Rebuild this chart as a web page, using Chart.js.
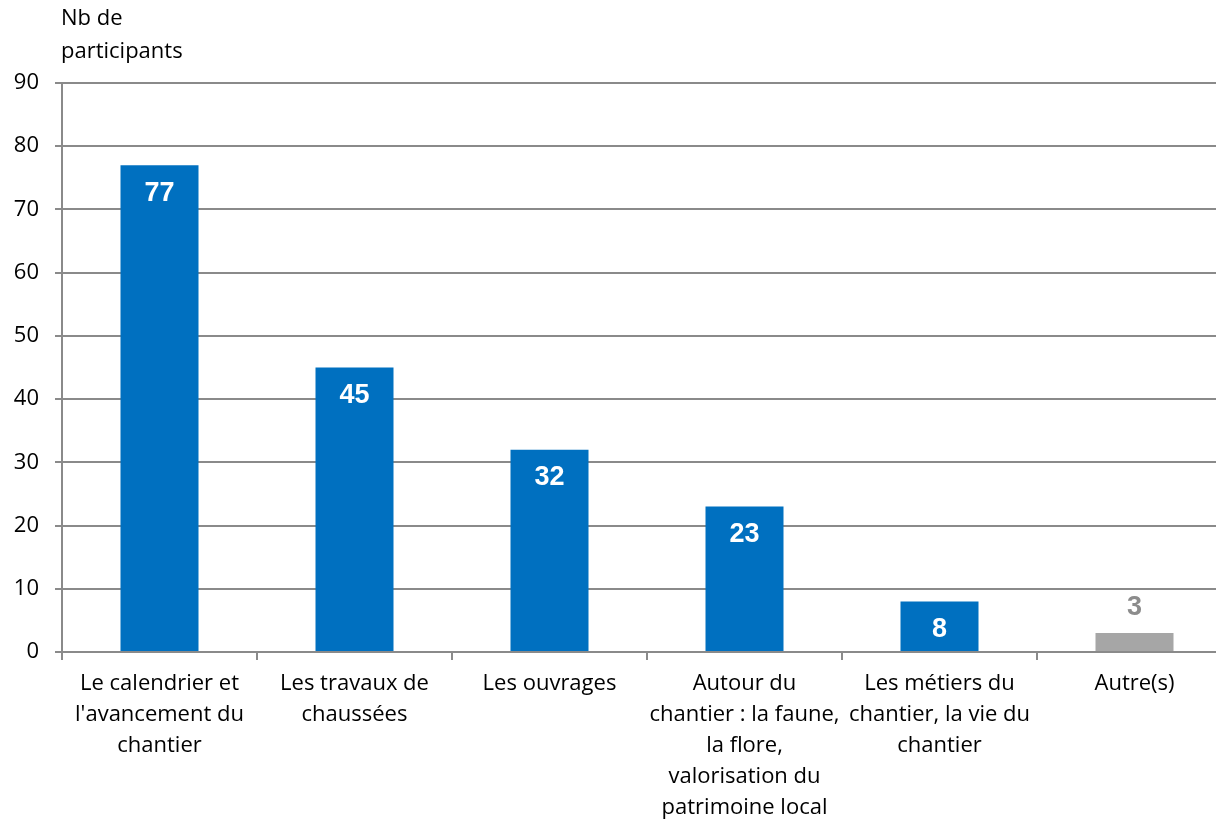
<!DOCTYPE html>
<html>
<head>
<meta charset="utf-8">
<script src="https://cdn.jsdelivr.net/npm/chart.js@4"></script>
<style>
  html, body { margin: 0; padding: 0; background: #fff; overflow: hidden; }
  #wrap { position: relative; width: 1240px; height: 823px; }
</style>
</head>
<body>
<div id="wrap"><canvas id="chart"></canvas></div>
<script>
// données
const categories = [
  ["Le calendrier et", "l'avancement du", "chantier"],
  ["Les travaux de", "chaussées"],
  ["Les ouvrages"],
  ["Autour du", "chantier : la faune,", "la flore,", "valorisation du", "patrimoine local"],
  ["Les métiers du", "chantier, la vie du", "chantier"],
  ["Autre(s)"]
];
const participants = [77, 45, 32, 23, 8, 3];
const barColors = ["#0070C0", "#0070C0", "#0070C0", "#0070C0", "#0070C0", "#A6A6A6"];
const yTitle = ["Nb de", "participants"];

const FONT = '"Open Sans", "DejaVu Sans", sans-serif';

// étiquettes de valeur : dans la barre (blanc) ou au-dessus pour "Autre(s)"
const valueLabels = {
  id: 'valueLabels',
  afterDatasetsDraw(chart) {
    const ctx = chart.ctx;
    const meta = chart.getDatasetMeta(0);
    ctx.save();
    ctx.font = 'bold 27px "Liberation Sans", Arial, sans-serif';
    ctx.textAlign = 'center';
    ctx.textBaseline = 'middle';
    meta.data.forEach((bar, i) => {
      const v = participants[i];
      if (i === participants.length - 1) {
        ctx.fillStyle = '#8C8C8C';
        ctx.fillText(String(v), bar.x, bar.y - 25);
      } else {
        ctx.fillStyle = '#ffffff';
        ctx.fillText(String(v), bar.x, bar.y + 28);
      }
    });
    ctx.restore();
  }
};

// titre de l'axe Y, horizontal au-dessus de l'axe
const yTitlePlugin = {
  id: 'yTitle',
  afterDraw(chart) {
    const ctx = chart.ctx;
    ctx.save();
    ctx.font = '22px ' + FONT;
    ctx.fillStyle = '#000';
    ctx.textAlign = 'left';
    ctx.textBaseline = 'middle';
    ctx.fillText(yTitle[0], chart.chartArea.left - 1, 19);
    ctx.fillText(yTitle[1], chart.chartArea.left - 1, 52);
    ctx.restore();
  }
};

new Chart(document.getElementById('chart'), {
  type: 'bar',
  data: {
    labels: categories,
    datasets: [{
      data: participants,
      backgroundColor: barColors,
      borderWidth: 0,
      categoryPercentage: 1,
      barPercentage: 0.4
    }]
  },
  plugins: [valueLabels, yTitlePlugin],
  options: {
    responsive: true,
    maintainAspectRatio: false,
    animation: false,
    devicePixelRatio: 1,
    layout: { padding: { top: 83, right: 8, left: 0, bottom: 0 } },
    plugins: { legend: { display: false }, tooltip: { enabled: false } },
    scales: {
      x: {
        offset: true,
        grid: {
          display: true,
          drawOnChartArea: false,
          drawTicks: true,
          tickLength: 8,
          color: '#8A8A8A',
          lineWidth: 2,
          offset: true
        },
        border: { display: true, color: '#8A8A8A', width: 2 },
        ticks: {
          color: '#000',
          font: { family: FONT, size: 22, lineHeight: '31px' },
          padding: 8,
          maxRotation: 0,
          minRotation: 0,
          autoSkip: false
        },
        afterFit(scale) { scale.height = 823 - 652; }
      },
      y: {
        min: 0,
        max: 90,
        ticks: {
          stepSize: 10,
          color: '#000',
          font: { family: FONT, size: 22 },
          padding: 16
        },
        grid: {
          color: '#8A8A8A',
          lineWidth: 2,
          tickLength: 7
        },
        border: { display: true, color: '#8A8A8A', width: 2 },
        afterFit(scale) { scale.width = 62; }
      }
    }
  }
});
</script>
</body>
</html>
